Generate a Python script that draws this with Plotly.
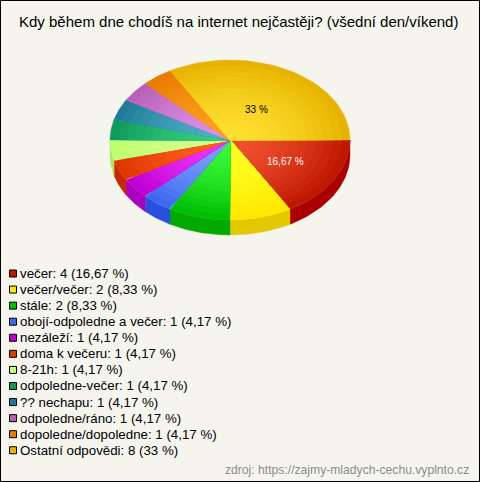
import numpy as np
import plotly.graph_objects as go

title = "Kdy během dne chodíš na internet nejčastěji? (všední den/víkend)"
categories = ["večer", "večer/večer", "stále", "obojí-odpoledne a večer", "nezáleží", "doma k večeru",
              "8-21h", "odpoledne-večer", "?? nechapu", "odpoledne/ráno", "dopoledne/dopoledne", "Ostatní odpovědi"]
counts = [4, 2, 2, 1, 1, 1, 1, 1, 1, 1, 1, 8]
percent_labels = ["16,67", "8,33", "8,33", "4,17", "4,17", "4,17", "4,17", "4,17", "4,17", "4,17", "4,17", "33"]
inner_colors = ["#F25030", "#FFFF22", "#3AF83A", "#7CA0FF", "#F035FF", "#FF6020",
                "#D8FF90", "#35D080", "#50B0C8", "#E090E8", "#FFA020", "#FFE030"]
outer_colors = ["#BE1800", "#FFE800", "#00BE00", "#3E68F0", "#BE00D0", "#E03800",
                "#BEFF70", "#109A5E", "#1E7C98", "#B860B8", "#E87C00", "#E6B400"]
side_colors = ["#AA0000", "#E2C800", "#00AA00", "#2850DC", "#AA00BE", "#C82800",
               "#A8E860", "#0A8850", "#146478", "#A050A0", "#D06800", "#C8A000"]
legend_colors = ["#BE1800", "#FFE800", "#00BE00", "#3E68F0", "#BE00D0", "#E03800",
                 "#C8FF78", "#109A5E", "#1E7C98", "#B860B8", "#E87C00", "#E6B400"]
slice_labels = {0: ("16,67 %", "#FFFFFF"), 11: ("33 %", "#000000")}
source = "zdroj: https://zajmy-mladych-cechu.vyplnto.cz"

W, H = 480, 482
cx, cy, rx, ry, depth = 230, 140, 120, 80, 15
BG = "#F5F5EE"
N_RINGS = 14


def hex_rgb(c):
    return np.array([int(c[i:i + 2], 16) for i in (1, 3, 5)], dtype=float)


def mix(a, b, t):
    v = hex_rgb(a) * (1 - t) + hex_rgb(b) * t
    return "rgb(%d,%d,%d)" % tuple(v.round())


def add_poly(fig, xs, ys, color):
    fig.add_trace(go.Scatter(x=xs, y=ys, mode="lines", fill="toself", fillcolor=color,
                             line=dict(width=0.4, color=color), hoverinfo="skip", showlegend=False))


fig = go.Figure()
angles = np.cumsum([0] + counts) / sum(counts) * 2 * np.pi

# walls of the front half
for i, c in enumerate(counts):
    a0, a1 = angles[i], min(angles[i + 1], np.pi)
    if a0 >= np.pi:
        continue
    t = np.linspace(a0, a1, 40)
    x = cx + rx * np.cos(t)
    y = cy + ry * np.sin(t)
    add_poly(fig, np.r_[x, x[::-1], x[0]], np.r_[y, y[::-1] + depth, y[0]], side_colors[i])

# top face: rings from the rim inwards for the radial shading
for i, c in enumerate(counts):
    t = np.linspace(angles[i], angles[i + 1], 40)
    for k in range(N_RINGS, 0, -1):
        s = k / N_RINGS
        x = np.r_[cx, cx + s * rx * np.cos(t), cx]
        y = np.r_[cy, cy + s * ry * np.sin(t), cy]
        add_poly(fig, x, y, mix(inner_colors[i], outer_colors[i], s ** 1.7))

# labels on slices, placed along each slice's own bisector
label_reach = {0: 0.53, 11: 0.44}
annotations = []
for i, (txt, col) in slice_labels.items():
    mid = (angles[i] + angles[i + 1]) / 2
    annotations.append(dict(x=cx + label_reach[i] * rx * np.cos(mid),
                            y=cy + label_reach[i] * ry * np.sin(mid),
                            text=txt, showarrow=False, xref="x", yref="y",
                            font=dict(family="Liberation Sans", size=10, color=col)))

annotations.append(dict(x=238.5, y=21, text=title, showarrow=False, xref="x", yref="y",
                        font=dict(family="Liberation Sans", size=15, color="#000000")))
annotations.append(dict(x=471, y=470, text=source, showarrow=False, xref="x", yref="y", xanchor="right",
                        font=dict(family="Liberation Sans", size=12.15, color="#8C8C8C")))

shapes = [dict(type="rect", x0=0.5, y0=0.5, x1=W - 0.5, y1=H - 0.5, xref="x", yref="y",
               line=dict(color="#000000", width=1), fillcolor="rgba(0,0,0,0)", layer="above")]
for i, name in enumerate(categories):
    yy = 273.5 + i * 16.07
    shapes.append(dict(type="rect", x0=9.5, x1=16.5, y0=yy - 3.5, y1=yy + 3.5, xref="x", yref="y",
                       line=dict(color="#000000", width=1), fillcolor=legend_colors[i]))
    annotations.append(dict(x=18, y=yy, text=f"{name}: {counts[i]} ({percent_labels[i]} %)", showarrow=False,
                            xref="x", yref="y", xanchor="left",
                            font=dict(family="Liberation Sans", size=13.3, color="#000000")))

fig.update_layout(width=W, height=H, margin=dict(l=0, r=0, t=0, b=0), paper_bgcolor=BG, plot_bgcolor=BG,
                  showlegend=False, shapes=shapes, annotations=annotations,
                  xaxis=dict(range=[0, W], visible=False, fixedrange=True),
                  yaxis=dict(range=[H, 0], visible=False, fixedrange=True))
fig.write_html("out.html", config=dict(displayModeBar=False),
               post_script="document.body.style.margin='0';document.body.style.overflow='hidden';")
